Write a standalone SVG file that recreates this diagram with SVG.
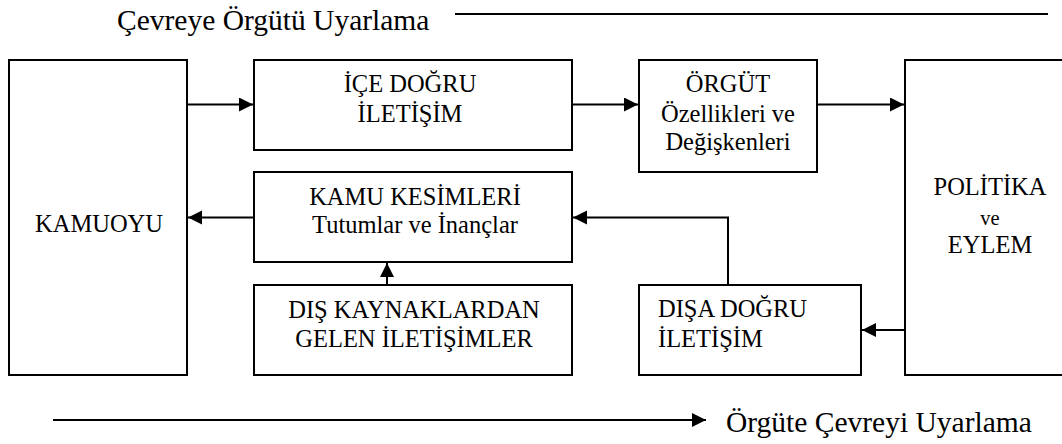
<svg xmlns="http://www.w3.org/2000/svg" width="1062" height="444" viewBox="0 0 1062 444">
<style>
  .box { fill: #fff; stroke: #000; stroke-width: 2; }
  text { font-family: "Liberation Serif", "Times New Roman", Times, serif; fill: #000; }
  .t { font-size: 24.5px; text-anchor: middle; }
  .tl { text-anchor: start; }
  .small { font-size: 20.5px; }
  .big { font-size: 29.5px; }
  .c { fill: none; stroke: #000; stroke-width: 2; }
</style>
<defs>
  <marker id="ah" markerUnits="userSpaceOnUse" markerWidth="16" markerHeight="16" refX="14" refY="7" orient="auto">
    <path d="M0,0 L14,7 L0,14 Z" fill="#000"/>
  </marker>
</defs>
<rect width="1062" height="444" fill="#fff"/>

<g id="title-top">
  <text class="big" x="117" y="30">Çevreye Örgütü Uyarlama</text>
</g>
<g id="title-bottom">
  <text class="big" x="726" y="432">Örgüte Çevreyi Uyarlama</text>
</g>

<g id="kamuoyu">
  <rect class="box" x="9" y="60" width="178" height="315"/>
  <text class="t" x="99" y="232">KAMUOYU</text>
</g>
<g id="ice-dogru">
  <rect class="box" x="254" y="60" width="318" height="90"/>
  <text class="t" x="410" y="92">İÇE DOĞRU</text>
  <text class="t" x="410" y="122">İLETİŞİM</text>
</g>
<g id="orgut">
  <rect class="box" x="639" y="60" width="178" height="112"/>
  <text class="t" x="728" y="92">ÖRGÜT</text>
  <text class="t" x="728" y="122">Özellikleri ve</text>
  <text class="t" x="728" y="150">Değişkenleri</text>
</g>
<g id="politika">
  <rect class="box" x="905" y="60" width="170" height="315"/>
  <text class="t" x="990" y="195">POLİTİKA</text>
  <text class="t small" x="990" y="225">ve</text>
  <text class="t" x="990" y="253">EYLEM</text>
</g>
<g id="kamu-kesimleri">
  <rect class="box" x="254" y="172" width="318" height="90"/>
  <text class="t" x="415" y="205">KAMU KESİMLERİ</text>
  <text class="t" x="415" y="233">Tutumlar ve İnançlar</text>
</g>
<g id="dis-kaynaklar">
  <rect class="box" x="254" y="285" width="318" height="90"/>
  <text class="t" x="414" y="318">DIŞ KAYNAKLARDAN</text>
  <text class="t" x="414" y="347">GELEN İLETİŞİMLER</text>
</g>
<g id="disa-dogru">
  <rect class="box" x="639" y="285" width="222" height="90"/>
  <text class="t tl" x="658" y="317">DIŞA DOĞRU</text>
  <text class="t tl" x="658" y="347">İLETİŞİM</text>
</g>

<g id="connectors">
  <path class="c" d="M187,104.5 H253" marker-end="url(#ah)"/>
  <path class="c" d="M572,104.5 H638" marker-end="url(#ah)"/>
  <path class="c" d="M817,104.5 H904" marker-end="url(#ah)"/>
  <path class="c" d="M253,217.5 H188" marker-end="url(#ah)"/>
  <path class="c" d="M387,285 V263" marker-end="url(#ah)"/>
  <path class="c" d="M728,285 V217.5 H573" marker-end="url(#ah)"/>
  <path class="c" d="M905,330 H862" marker-end="url(#ah)"/>
  <path class="c" d="M455,14 H1048"/>
  <path class="c" d="M53,420 H706" marker-end="url(#ah)"/>
</g>
</svg>
